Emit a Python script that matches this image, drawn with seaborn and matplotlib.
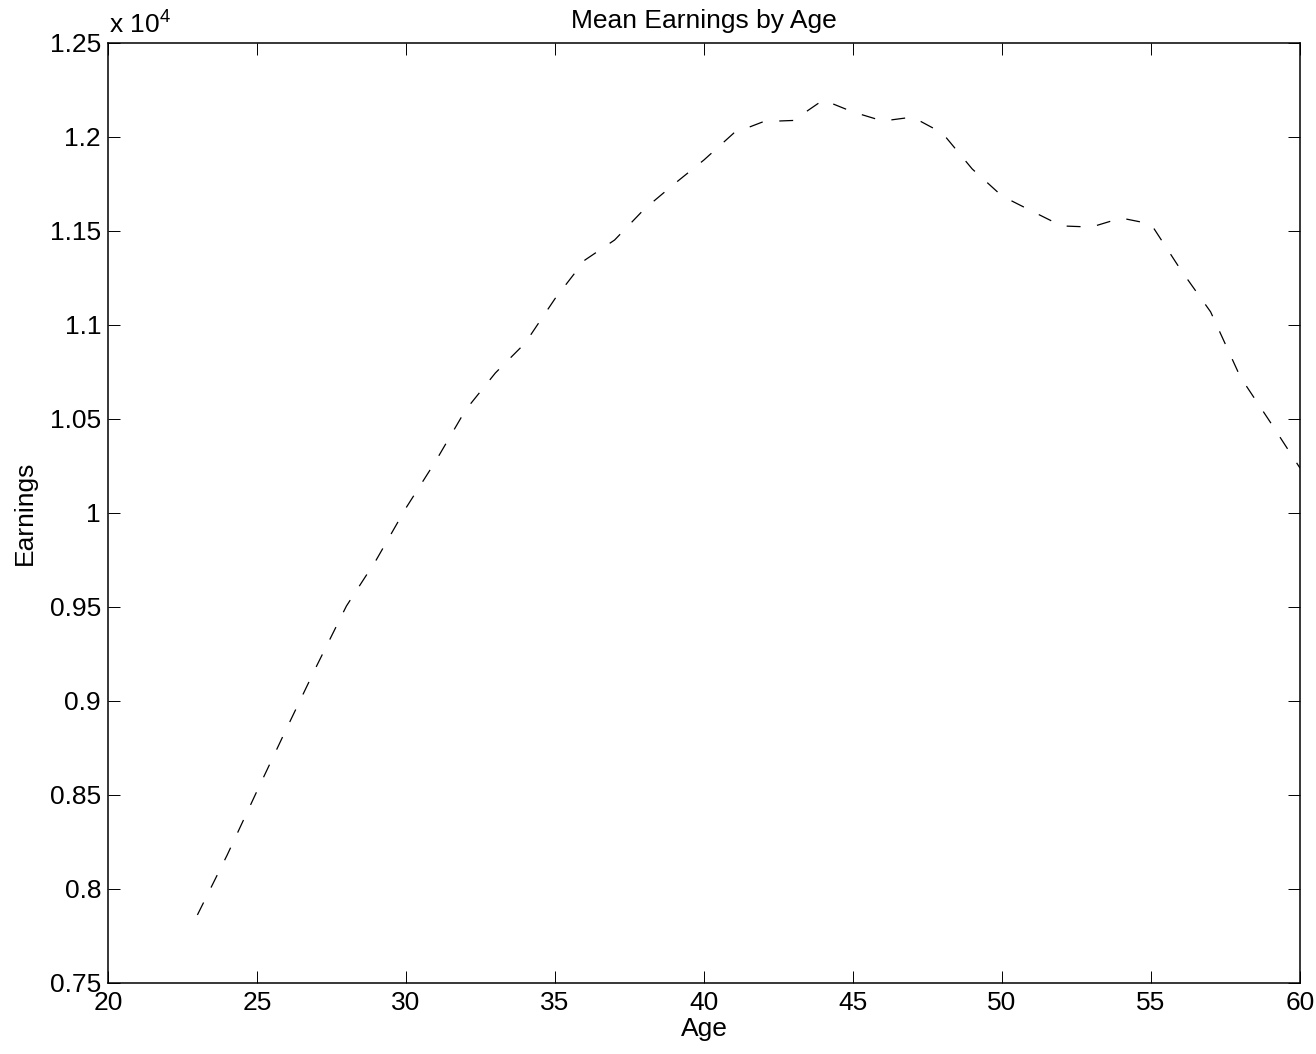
import matplotlib
matplotlib.use('Agg')
import matplotlib.pyplot as plt
import seaborn as sns

# Mean earnings by age
ages = list(range(23, 61))
earnings = [7862, 8181, 8521, 8856, 9186, 9505, 9750, 10027, 10277, 10548,
            10745, 10904, 11140, 11345, 11452, 11617, 11750, 11878, 12021, 12082,
            12088, 12197, 12133, 12085, 12106, 12021, 11830, 11686, 11606, 11527,
            11521, 11569, 11537, 11293, 11070, 10723, 10484, 10239]

xticks = [20, 25, 30, 35, 40, 45, 50, 55, 60]
yticks = [7500, 8000, 8500, 9000, 9500, 10000, 10500, 11000, 11500, 12000, 12500]
ytick_labels = ['0.75', '0.8', '0.85', '0.9', '0.95', '1', '1.05', '1.1', '1.15', '1.2', '1.25']

sns.set_theme(style='white')
plt.rcParams['font.family'] = ['Liberation Sans', 'DejaVu Sans']
plt.rcParams['mathtext.fontset'] = 'custom'
plt.rcParams['mathtext.rm'] = 'Liberation Sans'
plt.rcParams['mathtext.default'] = 'regular'
plt.rcParams['lines.scale_dashes'] = False
plt.rcParams['text.color'] = 'black'
plt.rcParams['axes.labelcolor'] = 'black'
plt.rcParams['axes.titlecolor'] = 'black'

fs = 19

fig = plt.figure(figsize=(13.16, 10.54), dpi=100)
ax = fig.add_axes([108 / 1316, 71 / 1054, 1192 / 1316, 940 / 1054])

sns.lineplot(x=ages, y=earnings, color='black', linewidth=0.9, ax=ax)
ax.lines[0].set_dashes([10, 12])

ax.set_xlim(20, 60)
ax.set_ylim(7500, 12500)
ax.set_xticks(xticks)
ax.set_xticklabels([str(t) for t in xticks])
ax.set_yticks(yticks)
ax.set_yticklabels(ytick_labels)

for s in ax.spines.values():
    s.set_visible(True)
    s.set_color('black')
    s.set_linewidth(1.1)

ax.tick_params(direction='in', length=8.5, width=0.7, colors='black',
               top=True, right=True, bottom=True, left=True, labelsize=fs)
ax.tick_params(axis='x', pad=6)
ax.tick_params(axis='y', pad=5)

ax.set_title('Mean Earnings by Age', fontsize=fs, pad=11, color='black')
ax.set_xlabel('Age', fontsize=fs, labelpad=1, color='black')
ax.set_ylabel('Earnings', fontsize=fs, labelpad=9, color='black')
ax.annotate(r'x 10$^{4}$', xy=(0, 1), xycoords='axes fraction', xytext=(1, 7),
            textcoords='offset points', va='baseline', ha='left', fontsize=fs,
            color='black')

fig.savefig('out.png', dpi=100, facecolor='white')
